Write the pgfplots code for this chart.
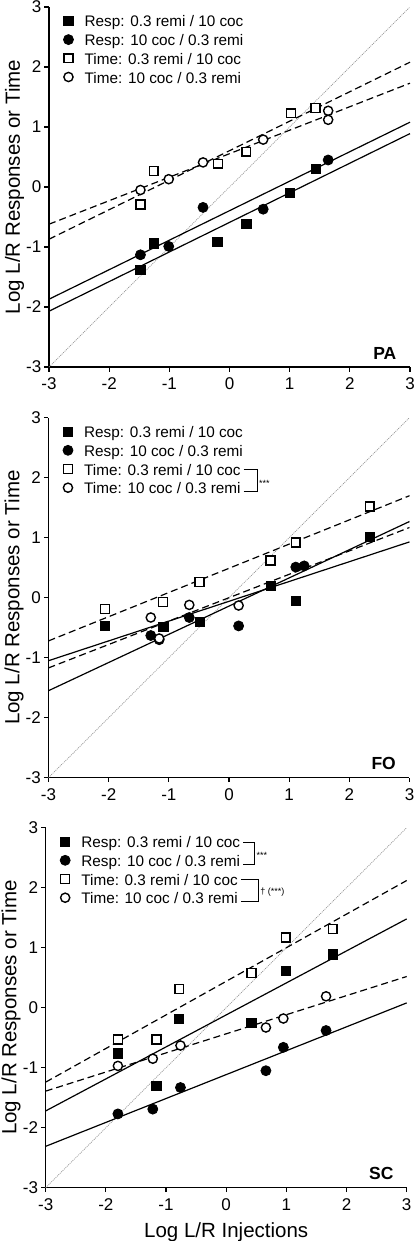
\documentclass[border=0pt]{standalone}
\usepackage{fontspec}
\setmainfont{Liberation Sans}
\usepackage{pgfplots}
\pgfplotsset{compat=1.18}

\pgfplotsset{
  panel/.style={
    scale only axis, width=361pt, height=360pt,
    xmin=-3,xmax=3,ymin=-3,ymax=3,
    axis lines*=left,
    axis line style={line width=1.2pt, black},
    xtick={-3,-2,-1,0,1,2,3}, ytick={-3,-2,-1,0,1,2,3},
    xticklabels={-3,-2,-1,0,1,2,3}, yticklabels={-3,-2,-1,0,1,2,3},
    tick align=outside, major tick length=4.5pt,
    every tick/.style={black, line width=1.2pt},
    tick label style={font=\fontsize{17}{17}\selectfont},
    xticklabel style={inner sep=1pt, yshift=-5pt}, yticklabel style={inner sep=1pt, xshift=-2pt},
    ylabel={Log L/R Responses or Time},
    ylabel style={font=\fontsize{20.5}{20.5}\selectfont, at={(axis description cs:-0.081,0.5)}, anchor=base},
    clip=false,
    legend cell align=left,
    legend style={draw=none, fill=none, inner sep=0pt, at={(axis description cs:0.039,0.9786)}, anchor=north west, font=\fontsize{15.3}{18}\selectfont, row sep=6.7pt, column sep=0pt, nodes={inner sep=0pt, text height=12pt, text depth=0pt}},
    legend image code/.code={\draw[##1] plot coordinates {(5pt,0pt)}; \path (0pt,0pt) (21pt,0pt);},
  },
  diag/.style={gray!85, line width=0.7pt, dash pattern=on 1pt off 1pt, forget plot, no marks},
  fit/.style={black, line width=1.2pt, forget plot, no marks},
  fitd/.style={black, line width=1.2pt, dash pattern=on 7pt off 4pt, forget plot, no marks},
  rsq/.style={only marks, mark=square*, mark size=4.6pt, mark options={fill=black, draw=black, line width=0.8pt, solid}},
  rci/.style={only marks, mark=*, mark size=5pt, mark options={fill=black, draw=black, line width=0.8pt, solid}},
  tsq/.style={only marks, mark=square*, mark size=4.4pt, mark options={fill=white, draw=black, line width=1.4pt, solid}},
  tci/.style={only marks, mark=*, mark size=4.6pt, mark options={fill=white, draw=black, line width=1.4pt, solid}},
}

\newcommand{\brtop}[1]{\hspace{3pt}\smash{\rule[5pt]{#1}{1pt}\rule[-5pt]{1pt}{11pt}}}
\newcommand{\brbot}[1]{\hspace{3pt}\smash{\rule[1.5pt]{#1}{1pt}\rule[1.5pt]{1pt}{12.5pt}}}
\newcommand{\sig}{\fontsize{9}{9}\selectfont}

\begin{document}
\begin{tikzpicture}
\useasboundingbox (0,0) rectangle (415pt,-1241pt);

% ---------------- PA ----------------
\begin{axis}[panel, at={(49pt,-367pt)}, anchor=south west]
\addplot[diag] coordinates {(-3,-3) (3,3)};
\addplot[fit]  coordinates {(-3,-2.07) (3,0.89)};
\addplot[fit]  coordinates {(-3,-1.87) (3,1.08)};
\addplot[fitd] coordinates {(-3,-0.87) (3,2.08)};
\addplot[fitd] coordinates {(-3,-0.62) (3,1.73)};
\addplot[rsq] coordinates {(-1.48,-1.38) (-1.26,-0.94) (-0.20,-0.92) (0.28,-0.62) (1.01,-0.10) (1.43,0.30)};
\addlegendentry{Resp: 0.3 remi / 10 coc}
\addplot[rci] coordinates {(-1.48,-1.13) (-1.01,-0.99) (-0.44,-0.34) (0.56,-0.37) (1.64,0.45)};
\addlegendentry{Resp: 10 coc / 0.3 remi}
\addplot[tsq] coordinates {(-1.48,-0.29) (-1.26,0.27) (-0.19,0.39) (0.28,0.59) (1.02,1.23) (1.43,1.32)};
\addlegendentry{Time: 0.3 remi / 10 coc}
\addplot[tci] coordinates {(-1.48,-0.05) (-1.01,0.13) (-0.44,0.41) (0.56,0.79) (1.64,1.27) (1.64,1.12)};
\addlegendentry{Time: 10 coc / 0.3 remi}
\node[anchor=base east, font=\bfseries\fontsize{17.5}{17.5}\selectfont] at (rel axis cs:0.972,0.022) {PA};
\end{axis}

% ---------------- FO ----------------
\begin{axis}[panel, at={(48.5pt,-777.7pt)}, anchor=south west]
\addplot[diag] coordinates {(-3,-3) (3,3)};
\addplot[fit]  coordinates {(-3,-1.05) (3,0.93)};
\addplot[fit]  coordinates {(-3,-1.55) (3,1.27)};
\addplot[fitd] coordinates {(-3,-0.72) (3,1.70)};
\addplot[fitd] coordinates {(-3,-1.17) (3,1.17)};
\addplot[rsq] coordinates {(-2.06,-0.47) (-1.09,-0.48) (-0.49,-0.40) (0.69,0.20) (1.11,-0.05) (2.34,1.02)};
\addlegendentry{Resp: 0.3 remi / 10 coc}
\addplot[rci] coordinates {(-1.30,-0.63) (-1.16,-0.70) (-0.66,-0.33) (0.16,-0.47) (1.11,0.51) (1.25,0.53)};
\addlegendentry{Resp: 10 coc / 0.3 remi}
\addplot[tsq] coordinates {(-2.06,-0.19) (-1.10,-0.07) (-0.49,0.26) (0.69,0.62) (1.11,0.92) (2.34,1.52)};
\addlegendentry{Time: 0.3 remi / 10 coc\brtop{13pt}}
\addplot[tci] coordinates {(-1.30,-0.33) (-1.16,-0.68) (-0.66,-0.12) (0.16,-0.13)};
\addlegendentry{Time: 10 coc / 0.3 remi\brbot{13pt}\rlap{\smash{\raisebox{7.5pt}{\sig\,***}}}}
\node[anchor=base east, font=\bfseries\fontsize{17.5}{17.5}\selectfont] at (rel axis cs:0.972,0.024) {FO};
\end{axis}

% ---------------- SC ----------------
\begin{axis}[panel, at={(45.7pt,-1187.7pt)}, anchor=south west,
  xlabel={Log L/R Injections},
  xlabel style={font=\fontsize{20.5}{20.5}\selectfont, at={(axis description cs:0.5,-0.139)}, anchor=base}]
\addplot[diag] coordinates {(-3,-3) (3,3)};
\addplot[fit]  coordinates {(-3,-1.72) (3,1.48)};
\addplot[fit]  coordinates {(-3,-2.31) (3,0.08)};
\addplot[fitd] coordinates {(-3,-1.24) (3,2.12)};
\addplot[fitd] coordinates {(-3,-1.39) (3,0.52)};
\addplot[rsq] coordinates {(-1.80,-0.76) (-1.16,-1.30) (-0.78,-0.19) (0.42,-0.25) (0.99,0.61) (1.77,0.89)};
\addlegendentry{Resp: 0.3 remi / 10 coc\brtop{11pt}}
\addplot[rci] coordinates {(-1.80,-1.77) (-1.22,-1.69) (-0.76,-1.33) (0.66,-1.05) (0.95,-0.66) (1.66,-0.38)};
\addlegendentry{Resp: 10 coc / 0.3 remi\brbot{11pt}\rlap{\smash{\raisebox{7.5pt}{\sig\,***}}}}
\addplot[tsq] coordinates {(-1.80,-0.53) (-1.16,-0.53) (-0.78,0.31) (0.42,0.58) (0.99,1.17) (1.77,1.31)};
\addlegendentry{Time: 0.3 remi / 10 coc\brtop{17pt}}
\addplot[tci] coordinates {(-1.80,-0.97) (-1.22,-0.85) (-0.76,-0.63) (0.66,-0.33) (0.95,-0.18) (1.66,0.19)};
\addlegendentry{Time: 10 coc / 0.3 remi\brbot{17pt}\rlap{\smash{\raisebox{9pt}{\sig\,† (***)}}}}
\node[anchor=base east, font=\bfseries\fontsize{17.5}{17.5}\selectfont] at (rel axis cs:0.973,0.024) {SC};
\end{axis}
\end{tikzpicture}
\end{document}
